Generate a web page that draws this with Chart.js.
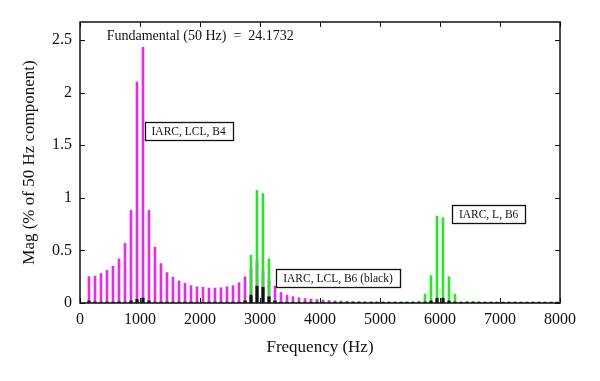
<!DOCTYPE html>
<html>
<head>
<meta charset="utf-8">
<script src="https://cdn.jsdelivr.net/npm/chart.js@4.4.0/dist/chart.umd.min.js"></script>
<style>
  html, body { margin: 0; padding: 0; background: #fff; }
  #grafico { display: block; }
</style>
</head>
<body>
<canvas id="grafico" width="600" height="381"></canvas>
<script>
// harmonicas impares (Hz)
var freqHz = [150, 250, 350, 450, 550, 650, 750, 850, 950, 1050,
  1150, 1250, 1350, 1450, 1550, 1650, 1750, 1850, 1950, 2050,
  2150, 2250, 2350, 2450, 2550, 2650, 2750, 2850, 2950, 3050,
  3150, 3250, 3350, 3450, 3550, 3650, 3750, 3850, 3950, 4050,
  4150, 4250, 4350, 4450, 4550, 4650, 4750, 4850, 4950, 5050,
  5150, 5250, 5350, 5450, 5550, 5650, 5750, 5850, 5950, 6050,
  6150, 6250, 6350, 6450, 6550, 6650, 6750, 6850, 6950, 7050,
  7150, 7250, 7350, 7450, 7550, 7650, 7750, 7850, 7950];

// IARC, LCL, B4 (magenta)
var magB4 = [0.25, 0.256, 0.28, 0.31, 0.35, 0.42, 0.566, 0.88, 2.10, 2.43,
  0.88, 0.53, 0.375, 0.29, 0.245, 0.21, 0.187, 0.165, 0.155, 0.15,
  0.142, 0.142, 0.145, 0.155, 0.165, 0.193, 0.25, 0.33, 0.4, 0.3,
  0.22, 0.16, 0.1, 0.075, 0.06, 0.05, 0.042, 0.037, 0.033, 0.028,
  0.024, 0.02, 0.018, 0.015, 0.012, 0.01, 0.009, 0.008, 0.007, 0,
  0, 0, 0, 0, 0, 0, 0, 0, 0, 0,
  0, 0, 0, 0, 0, 0, 0, 0, 0, 0,
  0, 0, 0, 0, 0, 0, 0, 0, 0];

// IARC, L, B6 (verde)
var magLB6 = [0.008, 0.008, 0.008, 0.008, 0.008, 0.008, 0.008, 0.008, 0.008, 0.008,
  0.008, 0.008, 0.008, 0.008, 0.008, 0.008, 0.008, 0.008, 0.008, 0.008,
  0.008, 0.008, 0.008, 0.008, 0.008, 0.01, 0.02, 0.455, 1.07, 1.04,
  0.42, 0.03, 0.01, 0.01, 0.01, 0.01, 0.01, 0.01, 0.01, 0.01,
  0.01, 0.01, 0.01, 0.01, 0.01, 0.01, 0.01, 0.01, 0.01, 0.01,
  0.01, 0.01, 0.01, 0.01, 0.012, 0.015, 0.085, 0.26, 0.825, 0.81,
  0.25, 0.083, 0.01, 0.015, 0.015, 0.012, 0.008, 0.008, 0.008, 0.008,
  0.008, 0.008, 0.008, 0.008, 0.008, 0.008, 0.008, 0.008, 0.008];

// IARC, LCL, B6 (preto)
var magLCLB6 = [0.02, 0.01, 0.008, 0.01, 0.008, 0.01, 0.008, 0.02, 0.035, 0.047,
  0.02, 0.008, 0.008, 0.008, 0.008, 0.008, 0.008, 0.008, 0.008, 0.008,
  0.008, 0.008, 0.008, 0.008, 0.008, 0.008, 0.02, 0.075, 0.16, 0.15,
  0.06, 0.02, 0.008, 0.008, 0.008, 0.008, 0.008, 0.008, 0.008, 0.008,
  0.008, 0.008, 0.008, 0.008, 0.008, 0.008, 0.008, 0.008, 0.008, 0.008,
  0.008, 0.008, 0.008, 0.008, 0.008, 0.008, 0.01, 0.02, 0.045, 0.045,
  0.02, 0.01, 0.008, 0.008, 0.008, 0.008, 0.008, 0.008, 0.008, 0.008,
  0.008, 0.008, 0.008, 0.008, 0.008, 0.008, 0.008, 0.008, 0.008];

// textos das caixas: [texto, Hz do centro, valor do centro]
var caixas = [
  ["IARC, LCL, B4", 1810, 1.63],
  ["IARC, LCL, B6 (black)", 4300, 0.234],
  ["IARC, L, B6", 6810, 0.846]
];
var textoFundamental = "Fundamental (50 Hz)  =  24.1732";

var fonte = "'Liberation Serif', 'DejaVu Serif', serif";

function pontos(valores) {
  return freqHz.map(function (f, i) { return { x: f, y: valores[i] }; });
}

var molduraPlugin = {
  id: "moldura",
  afterDraw: function (chart) {
    var ctx = chart.ctx;
    var a = chart.chartArea;
    var sx = chart.scales.x;
    var sy = chart.scales.y;
    ctx.save();
    ctx.strokeStyle = "#111";
    ctx.lineWidth = 1.5;
    ctx.strokeRect(a.left, a.top, a.right - a.left, a.bottom - a.top);
    ctx.lineWidth = 1;
    ctx.beginPath();
    sx.ticks.forEach(function (t) {
      var px = Math.round(sx.getPixelForValue(t.value)) + 0.5;
      ctx.moveTo(px, a.bottom); ctx.lineTo(px, a.bottom - 5);
      ctx.moveTo(px, a.top); ctx.lineTo(px, a.top + 5);
    });
    sy.ticks.forEach(function (t) {
      var py = Math.round(sy.getPixelForValue(t.value)) + 0.5;
      ctx.moveTo(a.left, py); ctx.lineTo(a.left + 5, py);
      ctx.moveTo(a.right, py); ctx.lineTo(a.right - 5, py);
    });
    ctx.stroke();

    // texto do fundamental
    ctx.fillStyle = "#111";
    ctx.font = "14px " + fonte;
    ctx.textAlign = "left";
    ctx.textBaseline = "middle";
    ctx.fillText(textoFundamental, sx.getPixelForValue(445), sy.getPixelForValue(2.53));

    // caixas
    ctx.font = "11.5px " + fonte;
    ctx.textAlign = "center";
    caixas.forEach(function (c) {
      var cx = sx.getPixelForValue(c[1]);
      var cy = sy.getPixelForValue(c[2]);
      var w = ctx.measureText(c[0]).width + 14;
      var h = 18;
      ctx.fillStyle = "#fff";
      ctx.fillRect(cx - w / 2, cy - h / 2, w, h);
      ctx.lineWidth = 1.3;
      ctx.strokeStyle = "#111";
      ctx.strokeRect(Math.round(cx - w / 2) + 0.5, Math.round(cy - h / 2) + 0.5, Math.round(w), h);
      ctx.fillStyle = "#111";
      ctx.fillText(c[0], cx, cy + 1);
    });
    ctx.restore();
  }
};

var config = {
  type: "bar",
  data: {
    datasets: [
      {
        label: "IARC, LCL, B6",
        data: pontos(magLCLB6),
        backgroundColor: "#111111",
        barThickness: 2.5,
        grouped: false,
        order: 0
      },
      {
        label: "IARC, L, B6",
        data: pontos(magLB6),
        backgroundColor: "#30e030",
        barThickness: 2,
        grouped: false,
        order: 1
      },
      {
        label: "IARC, LCL, B4",
        data: pontos(magB4),
        backgroundColor: "#e030e0",
        barThickness: 2,
        grouped: false,
        order: 2
      }
    ]
  },
  options: {
    responsive: false,
    animation: false,
    devicePixelRatio: 1,
    layout: { padding: { top: 22, right: 40, left: 0, bottom: 0 } },
    plugins: {
      legend: { display: false },
      tooltip: { enabled: false }
    },
    scales: {
      x: {
        type: "linear",
        min: 0,
        max: 8000,
        offset: false,
        grid: { display: false, drawTicks: false },
        border: { display: false },
        ticks: {
          stepSize: 1000,
          padding: 7,
          maxRotation: 0,
          color: "#111",
          font: { family: fonte, size: 16 },
          callback: function (v) { return String(v); }
        },
        title: {
          display: true,
          text: "Frequency (Hz)",
          color: "#111",
          font: { family: fonte, size: 17 },
          padding: { top: 0, bottom: 23 }
        },
        afterFit: function (scale) { scale.height = 78; }
      },
      y: {
        min: 0,
        max: 2.67,
        grid: { display: false, drawTicks: false },
        border: { display: false },
        ticks: {
          stepSize: 0.5,
          includeBounds: false,
          padding: 8,
          color: "#111",
          font: { family: fonte, size: 16 },
          callback: function (v) { return String(v); }
        },
        title: {
          display: true,
          text: "Mag (% of 50 Hz component)",
          color: "#111",
          font: { family: fonte, size: 17 },
          padding: { top: 19, bottom: 0 }
        },
        afterFit: function (scale) { scale.width = 80; }
      }
    }
  },
  plugins: [molduraPlugin]
};

var grafico = new Chart(document.getElementById("grafico"), config);
</script>
</body>
</html>
